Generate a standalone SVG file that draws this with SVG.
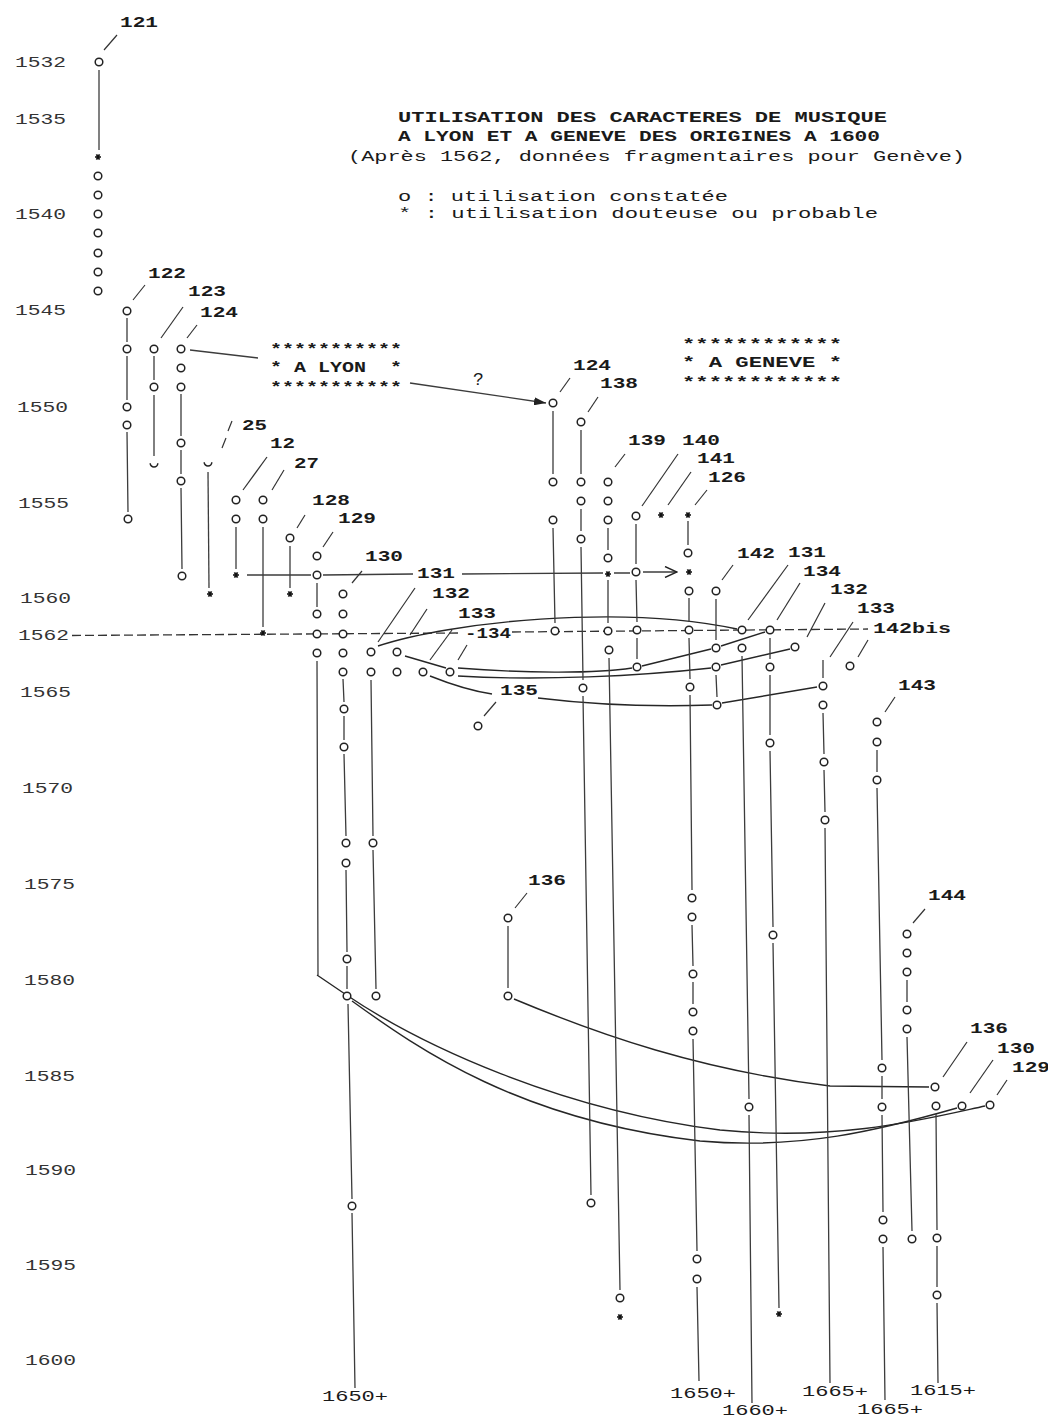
<svg xmlns="http://www.w3.org/2000/svg" width="1048" height="1417" viewBox="0 0 1048 1417">
<style>
.ln{fill:none;stroke:#3c3c3c;stroke-width:1.3}
.sl{fill:none;stroke:#333;stroke-width:1.2}
.cv{fill:none;stroke:#262626;stroke-width:1.4}
.ds{fill:none;stroke:#333;stroke-width:1.3;stroke-dasharray:9 4}
text{font-family:"Liberation Mono","DejaVu Sans Mono",monospace;font-size:14px;fill:#1a1a1a}
.lb{font-weight:bold}
.yr{fill:#333}
.tt{font-weight:bold}
</style>
<defs>
<circle id="o" cx="0" cy="0" r="3.8" fill="#fff" stroke="#222" stroke-width="1.5"/>
<path id="u" d="M-3.8,-0.8 A3.8,3.8 0 1 0 3.8,-0.8" fill="none" stroke="#222" stroke-width="1.5"/>
<path id="st" d="M-3,0H3M-1.5,-2.6L1.5,2.6M1.5,-2.6L-1.5,2.6" fill="none" stroke="#111" stroke-width="1.7"/>
<marker id="open" viewBox="0 0 14 12" refX="13" refY="6" markerWidth="14" markerHeight="12" markerUnits="userSpaceOnUse" orient="auto"><path d="M1,0.5L13,6L1,11.5" fill="none" stroke="#222" stroke-width="1.4"/></marker>
<marker id="fill" viewBox="0 0 12 8" refX="12" refY="4" markerWidth="12" markerHeight="8" markerUnits="userSpaceOnUse" orient="auto"><path d="M0,0L12,4L0,8Z" fill="#222"/></marker>
</defs>
<rect width="1048" height="1417" fill="#fff"/>

<g id="axis" class="yr">
<text class="yr" x="15" y="67" textLength="51" lengthAdjust="spacingAndGlyphs">1532</text>
<text class="yr" x="15" y="124" textLength="51" lengthAdjust="spacingAndGlyphs">1535</text>
<text class="yr" x="15" y="219" textLength="51" lengthAdjust="spacingAndGlyphs">1540</text>
<text class="yr" x="15" y="315" textLength="51" lengthAdjust="spacingAndGlyphs">1545</text>
<text class="yr" x="17" y="412" textLength="51" lengthAdjust="spacingAndGlyphs">1550</text>
<text class="yr" x="18" y="508" textLength="51" lengthAdjust="spacingAndGlyphs">1555</text>
<text class="yr" x="20" y="603" textLength="51" lengthAdjust="spacingAndGlyphs">1560</text>
<text class="yr" x="18" y="640" textLength="51" lengthAdjust="spacingAndGlyphs">1562</text>
<text class="yr" x="20" y="697" textLength="51" lengthAdjust="spacingAndGlyphs">1565</text>
<text class="yr" x="22" y="793" textLength="51" lengthAdjust="spacingAndGlyphs">1570</text>
<text class="yr" x="24" y="889" textLength="51" lengthAdjust="spacingAndGlyphs">1575</text>
<text class="yr" x="24" y="985" textLength="51" lengthAdjust="spacingAndGlyphs">1580</text>
<text class="yr" x="24" y="1081" textLength="51" lengthAdjust="spacingAndGlyphs">1585</text>
<text class="yr" x="25" y="1175" textLength="51" lengthAdjust="spacingAndGlyphs">1590</text>
<text class="yr" x="25" y="1270" textLength="51" lengthAdjust="spacingAndGlyphs">1595</text>
<text class="yr" x="25" y="1365" textLength="51" lengthAdjust="spacingAndGlyphs">1600</text>
</g>

<g id="title">
<text class="tt" x="398" y="122" textLength="489" lengthAdjust="spacingAndGlyphs">UTILISATION DES CARACTERES DE MUSIQUE</text>
<text class="tt" x="398" y="141" textLength="482" lengthAdjust="spacingAndGlyphs">A LYON ET A GENEVE DES ORIGINES A 1600</text>
<text x="348" y="161" textLength="617" lengthAdjust="spacingAndGlyphs">(Après 1562, données fragmentaires pour Genève)</text>
<text x="398" y="201" textLength="330" lengthAdjust="spacingAndGlyphs">o : utilisation constatée</text>
<text x="398" y="218" textLength="480" lengthAdjust="spacingAndGlyphs">* : utilisation douteuse ou probable</text>
</g>

<g id="lyon">
<text class="lb" x="270" y="354" textLength="132" lengthAdjust="spacingAndGlyphs">***********</text>
<text class="lb" x="270" y="372" textLength="132" lengthAdjust="spacingAndGlyphs" xml:space="preserve">* A LYON  *</text>
<text class="lb" x="270" y="392" textLength="132" lengthAdjust="spacingAndGlyphs">***********</text>
</g>
<g id="geneve">
<text class="lb" x="682" y="349" textLength="160" lengthAdjust="spacingAndGlyphs">************</text>
<text class="lb" x="682" y="367" textLength="160" lengthAdjust="spacingAndGlyphs">* A GENEVE *</text>
<text class="lb" x="682" y="387" textLength="160" lengthAdjust="spacingAndGlyphs">************</text>
</g>

<g id="connectors">
<path class="ds" d="M72,635.5L460,633"/>
<path class="ds" d="M512,632L868,629"/>
<path class="ln" d="M247,575H311M323,575L413,574M462,574L603,573M614,573H630"/>
<path class="ln" d="M643,572L677,572" marker-end="url(#open)"/>
<path class="ln" d="M190,350L258,358"/>
<path class="ln" d="M410,383L546,403" marker-end="url(#fill)"/>
<text x="473" y="385" style="font-size:18px">?</text>
<path class="cv" d="M378,646C450,622 620,604 737,629"/>
<path class="cv" d="M430,676Q465,690 492,694M538,698Q620,708 712,705M722,703L817,687"/>
<path class="cv" d="M405,656L446,668"/>
<path class="cv" d="M458,668C520,673 595,674 632,668M642,666L711,649M721,646L765,632"/>
<path class="cv" d="M458,676C540,681 640,676 711,668M721,665L790,649"/>
<path class="cv" d="M317,975L345,994C420,1045 560,1110 720,1130C840,1142 930,1118 985,1106"/>
<path class="cv" d="M352,1001C420,1050 520,1120 700,1141C800,1150 880,1130 957,1108"/>
<path class="cv" d="M514,999C600,1035 700,1070 830,1086L929,1087"/>
</g>

<g id="n121">
<use href="#o" x="99" y="62"/>
<path class="ln" d="M99,70V150"/>
<use href="#st" x="98" y="157"/>
<use href="#o" x="98" y="176"/><use href="#o" x="98" y="195"/><use href="#o" x="98" y="214"/><use href="#o" x="98" y="233"/><use href="#o" x="98" y="253"/><use href="#o" x="98" y="272"/><use href="#o" x="98" y="291"/>
<path class="sl" d="M104,50L117,35"/>
<text class="lb" x="120" y="27" textLength="38" lengthAdjust="spacingAndGlyphs">121</text>
</g>
<g id="n122">
<path class="ln" d="M127,318V342M127,356V400M127,432L128,512"/>
<use href="#o" x="127" y="311"/><use href="#o" x="127" y="349"/><use href="#o" x="127" y="407"/><use href="#o" x="127" y="425"/><use href="#o" x="128" y="519"/>
<path class="sl" d="M133,300L145,285"/>
<text class="lb" x="148" y="278" textLength="38" lengthAdjust="spacingAndGlyphs">122</text>
</g>
<g id="n123">
<path class="ln" d="M154,356V380M154,395V456"/>
<use href="#o" x="154" y="349"/><use href="#o" x="154" y="387"/><use href="#u" x="154" y="464"/>
<path class="sl" d="M161,338L183,307"/>
<text class="lb" x="188" y="296" textLength="38" lengthAdjust="spacingAndGlyphs">123</text>
</g>
<g id="n124L">
<path class="ln" d="M181,394V436M181,450V474M181,488L182,569"/>
<use href="#o" x="181" y="349"/><use href="#o" x="181" y="368"/><use href="#o" x="181" y="387"/><use href="#o" x="181" y="443"/><use href="#o" x="181" y="481"/><use href="#o" x="182" y="576"/>
<path class="sl" d="M187,338L197,325"/>
<text class="lb" x="200" y="317" textLength="38" lengthAdjust="spacingAndGlyphs">124</text>
</g>
<g id="n125">
<path class="ln" d="M208,472L209,588"/>
<use href="#u" x="208" y="463"/><use href="#st" x="210" y="594"/>
<path class="sl" d="M222,448L226,438M228,431L232,421"/>
<text class="lb" x="242" y="430" textLength="25" lengthAdjust="spacingAndGlyphs">25</text>
</g>
<g id="n126L">
<path class="ln" d="M236,527V569"/>
<use href="#o" x="236" y="500"/><use href="#o" x="236" y="519"/><use href="#st" x="236" y="575"/>
<path class="sl" d="M243,490L267,457"/>
<text class="lb" x="270" y="448" textLength="25" lengthAdjust="spacingAndGlyphs">12</text>
</g>
<g id="n127">
<path class="ln" d="M263,527V627"/>
<use href="#o" x="263" y="500"/><use href="#o" x="263" y="519"/><use href="#st" x="263" y="633"/>
<path class="sl" d="M272,490L284,470"/>
<text class="lb" x="294" y="468" textLength="25" lengthAdjust="spacingAndGlyphs">27</text>
</g>
<g id="n128">
<path class="ln" d="M290,546V588"/>
<use href="#o" x="290" y="538"/><use href="#st" x="290" y="594"/>
<path class="sl" d="M297,528L305,515"/>
<text class="lb" x="312" y="505" textLength="38" lengthAdjust="spacingAndGlyphs">128</text>
</g>
<g id="n129L">
<path class="ln" d="M317,583V607M317,661L318,975"/>
<use href="#o" x="317" y="556"/><use href="#o" x="317" y="575"/><use href="#o" x="317" y="614"/><use href="#o" x="317" y="634"/><use href="#o" x="317" y="653"/>
<path class="sl" d="M323,547L333,532"/>
<text class="lb" x="338" y="523" textLength="38" lengthAdjust="spacingAndGlyphs">129</text>
</g>
<g id="n130L">
<path class="ln" d="M343,679L344,702M344,716V740M344,754L346,836M346,870L347,952M347,966V989M348,1004L352,1199M352,1213L355,1388"/>
<use href="#o" x="343" y="594"/><use href="#o" x="343" y="614"/><use href="#o" x="343" y="634"/><use href="#o" x="343" y="653"/><use href="#o" x="343" y="672"/><use href="#o" x="344" y="709"/><use href="#o" x="344" y="747"/><use href="#o" x="346" y="843"/><use href="#o" x="346" y="863"/><use href="#o" x="347" y="959"/><use href="#o" x="347" y="996"/><use href="#o" x="352" y="1206"/>
<path class="sl" d="M352,583L362,571"/>
<text class="lb" x="365" y="561" textLength="38" lengthAdjust="spacingAndGlyphs">130</text>
<text x="322" y="1401" textLength="66" lengthAdjust="spacingAndGlyphs">1650+</text>
</g>
<g id="n131L">
<path class="ln" d="M371,680L373,836M373,850L376,989"/>
<use href="#o" x="371" y="652"/><use href="#o" x="371" y="672"/><use href="#o" x="373" y="843"/><use href="#o" x="376" y="996"/>
<path class="sl" d="M378,642L415,588"/>
<text class="lb" x="417" y="578" textLength="38" lengthAdjust="spacingAndGlyphs">131</text>
</g>
<g id="n132L">
<use href="#o" x="397" y="652"/><use href="#o" x="397" y="672"/>
<path class="sl" d="M410,635L427,609"/>
<text class="lb" x="432" y="598" textLength="38" lengthAdjust="spacingAndGlyphs">132</text>
</g>
<g id="n133L">
<use href="#o" x="423" y="672"/>
<path class="sl" d="M430,660L452,630"/>
<text class="lb" x="458" y="618" textLength="38" lengthAdjust="spacingAndGlyphs">133</text>
</g>
<g id="n134L">
<use href="#o" x="450" y="672"/>
<path class="sl" d="M458,660L467,645"/>
<text class="lb" x="465" y="638" textLength="46" lengthAdjust="spacingAndGlyphs">-134</text>
</g>
<g id="n135">
<use href="#o" x="478" y="726"/>
<path class="sl" d="M484,716L496,702"/>
<text class="lb" x="500" y="695" textLength="38" lengthAdjust="spacingAndGlyphs">135</text>
</g>
<g id="n136L">
<path class="ln" d="M508,926V988"/>
<use href="#o" x="508" y="918"/><use href="#o" x="508" y="996"/>
<path class="sl" d="M515,908L527,893"/>
<text class="lb" x="528" y="885" textLength="38" lengthAdjust="spacingAndGlyphs">136</text>
</g>

<g id="n124G">
<path class="ln" d="M553,411V474M553,528L555,623"/>
<use href="#o" x="553" y="403"/><use href="#o" x="553" y="482"/><use href="#o" x="553" y="520"/><use href="#o" x="555" y="631"/>
<path class="sl" d="M560,392L570,378"/>
<text class="lb" x="573" y="370" textLength="38" lengthAdjust="spacingAndGlyphs">124</text>
</g>
<g id="n138">
<path class="ln" d="M581,430V474M581,509V531M581,547L583,680M583,696L591,1195"/>
<use href="#o" x="581" y="422"/><use href="#o" x="581" y="482"/><use href="#o" x="581" y="501"/><use href="#o" x="581" y="539"/><use href="#o" x="583" y="688"/><use href="#o" x="591" y="1203"/>
<path class="sl" d="M588,412L598,397"/>
<text class="lb" x="600" y="388" textLength="38" lengthAdjust="spacingAndGlyphs">138</text>
</g>
<g id="n139">
<path class="ln" d="M608,528V550M608,580V623M609,658L620,1290"/>
<use href="#o" x="608" y="482"/><use href="#o" x="608" y="501"/><use href="#o" x="608" y="520"/><use href="#o" x="608" y="558"/><use href="#st" x="608" y="574"/><use href="#o" x="608" y="631"/><use href="#o" x="609" y="650"/><use href="#o" x="620" y="1298"/><use href="#st" x="620" y="1317"/>
<path class="sl" d="M615,467L625,454"/>
<text class="lb" x="628" y="445" textLength="38" lengthAdjust="spacingAndGlyphs">139</text>
</g>
<g id="n140">
<path class="ln" d="M636,524V564M636,580L637,622M637,638V659"/>
<use href="#o" x="636" y="516"/><use href="#o" x="636" y="572"/><use href="#o" x="637" y="630"/><use href="#o" x="637" y="667"/>
<path class="sl" d="M642,506L678,454"/>
<text class="lb" x="682" y="445" textLength="38" lengthAdjust="spacingAndGlyphs">140</text>
</g>
<g id="n141">
<use href="#st" x="661" y="515"/>
<path class="sl" d="M668,505L691,472"/>
<text class="lb" x="697" y="463" textLength="38" lengthAdjust="spacingAndGlyphs">141</text>
</g>
<g id="n126G">
<path class="ln" d="M688,521V545M689,598V622M689,638L690,679M690,695L692,890M692,925L693,966M693,982V1004M693,1039L697,1251M697,1287L699,1381"/>
<use href="#st" x="688" y="515"/><use href="#o" x="688" y="553"/><use href="#st" x="689" y="572"/><use href="#o" x="689" y="591"/><use href="#o" x="689" y="630"/><use href="#o" x="690" y="687"/><use href="#o" x="692" y="898"/><use href="#o" x="692" y="917"/><use href="#o" x="693" y="974"/><use href="#o" x="693" y="1012"/><use href="#o" x="693" y="1031"/><use href="#o" x="697" y="1259"/><use href="#o" x="697" y="1279"/>
<path class="sl" d="M695,505L707,490"/>
<text class="lb" x="708" y="482" textLength="38" lengthAdjust="spacingAndGlyphs">126</text>
<text x="670" y="1398" textLength="66" lengthAdjust="spacingAndGlyphs">1650+</text>
</g>
<g id="n142">
<path class="ln" d="M716,599V640M716,675L717,697"/>
<use href="#o" x="716" y="591"/><use href="#o" x="716" y="648"/><use href="#o" x="716" y="667"/><use href="#o" x="717" y="705"/>
<path class="sl" d="M722,580L733,565"/>
<text class="lb" x="737" y="558" textLength="38" lengthAdjust="spacingAndGlyphs">142</text>
</g>
<g id="n131G">
<path class="ln" d="M742,656L749,1099M749,1115L752,1403"/>
<use href="#o" x="742" y="630"/><use href="#o" x="742" y="648"/><use href="#o" x="749" y="1107"/>
<path class="sl" d="M748,620L788,565"/>
<text class="lb" x="788" y="557" textLength="38" lengthAdjust="spacingAndGlyphs">131</text>
<text x="722" y="1415" textLength="66" lengthAdjust="spacingAndGlyphs">1660+</text>
</g>
<g id="n134G">
<path class="ln" d="M770,638V659M770,675V735M770,751L773,927M773,943L779,1308"/>
<use href="#o" x="770" y="630"/><use href="#o" x="770" y="667"/><use href="#o" x="770" y="743"/><use href="#o" x="773" y="935"/><use href="#st" x="779" y="1314"/>
<path class="sl" d="M777,620L800,583"/>
<text class="lb" x="803" y="576" textLength="38" lengthAdjust="spacingAndGlyphs">134</text>
</g>
<g id="n132G">
<use href="#o" x="795" y="647"/>
<path class="sl" d="M807,637L825,603"/>
<text class="lb" x="830" y="594" textLength="38" lengthAdjust="spacingAndGlyphs">132</text>
</g>
<g id="n133G">
<path class="ln" d="M823,660V678M823,713L824,754M824,770L825,812M825,828L830,1383"/>
<use href="#o" x="823" y="686"/><use href="#o" x="823" y="705"/><use href="#o" x="824" y="762"/><use href="#o" x="825" y="820"/>
<path class="sl" d="M830,657L853,622"/>
<text class="lb" x="857" y="613" textLength="38" lengthAdjust="spacingAndGlyphs">133</text>
<text x="802" y="1396" textLength="66" lengthAdjust="spacingAndGlyphs">1665+</text>
</g>
<g id="n142bis">
<use href="#o" x="850" y="666"/>
<path class="sl" d="M858,657L868,640"/>
<text class="lb" x="873" y="633" textLength="78" lengthAdjust="spacingAndGlyphs">142bis</text>
</g>
<g id="n143">
<path class="ln" d="M877,750V772M877,788L882,1060M882,1076V1099M882,1115L883,1212M883,1247L885,1400"/>
<use href="#o" x="877" y="722"/><use href="#o" x="877" y="742"/><use href="#o" x="877" y="780"/><use href="#o" x="882" y="1068"/><use href="#o" x="882" y="1107"/><use href="#o" x="883" y="1220"/><use href="#o" x="883" y="1239"/>
<path class="sl" d="M885,712L895,697"/>
<text class="lb" x="898" y="690" textLength="38" lengthAdjust="spacingAndGlyphs">143</text>
<text x="857" y="1414" textLength="66" lengthAdjust="spacingAndGlyphs">1665+</text>
</g>
<g id="n144">
<path class="ln" d="M907,980V1002M907,1037L912,1231"/>
<use href="#o" x="907" y="934"/><use href="#o" x="907" y="953"/><use href="#o" x="907" y="972"/><use href="#o" x="907" y="1010"/><use href="#o" x="907" y="1029"/><use href="#o" x="912" y="1239"/>
<path class="sl" d="M913,923L925,909"/>
<text class="lb" x="928" y="900" textLength="38" lengthAdjust="spacingAndGlyphs">144</text>
</g>
<g id="n136G">
<path class="ln" d="M936,1114L937,1230M937,1246V1287M937,1303L938,1383"/>
<use href="#o" x="935" y="1087"/><use href="#o" x="936" y="1106"/><use href="#o" x="937" y="1238"/><use href="#o" x="937" y="1295"/>
<path class="sl" d="M943,1077L967,1042"/>
<text class="lb" x="970" y="1033" textLength="38" lengthAdjust="spacingAndGlyphs">136</text>
<text x="910" y="1395" textLength="66" lengthAdjust="spacingAndGlyphs">1615+</text>
</g>
<g id="n130G">
<use href="#o" x="962" y="1106"/>
<path class="sl" d="M970,1093L993,1060"/>
<text class="lb" x="997" y="1053" textLength="38" lengthAdjust="spacingAndGlyphs">130</text>
</g>
<g id="n129G">
<use href="#o" x="990" y="1105"/>
<path class="sl" d="M997,1095L1007,1080"/>
<text class="lb" x="1012" y="1072" textLength="38" lengthAdjust="spacingAndGlyphs">129</text>
</g>
</svg>
